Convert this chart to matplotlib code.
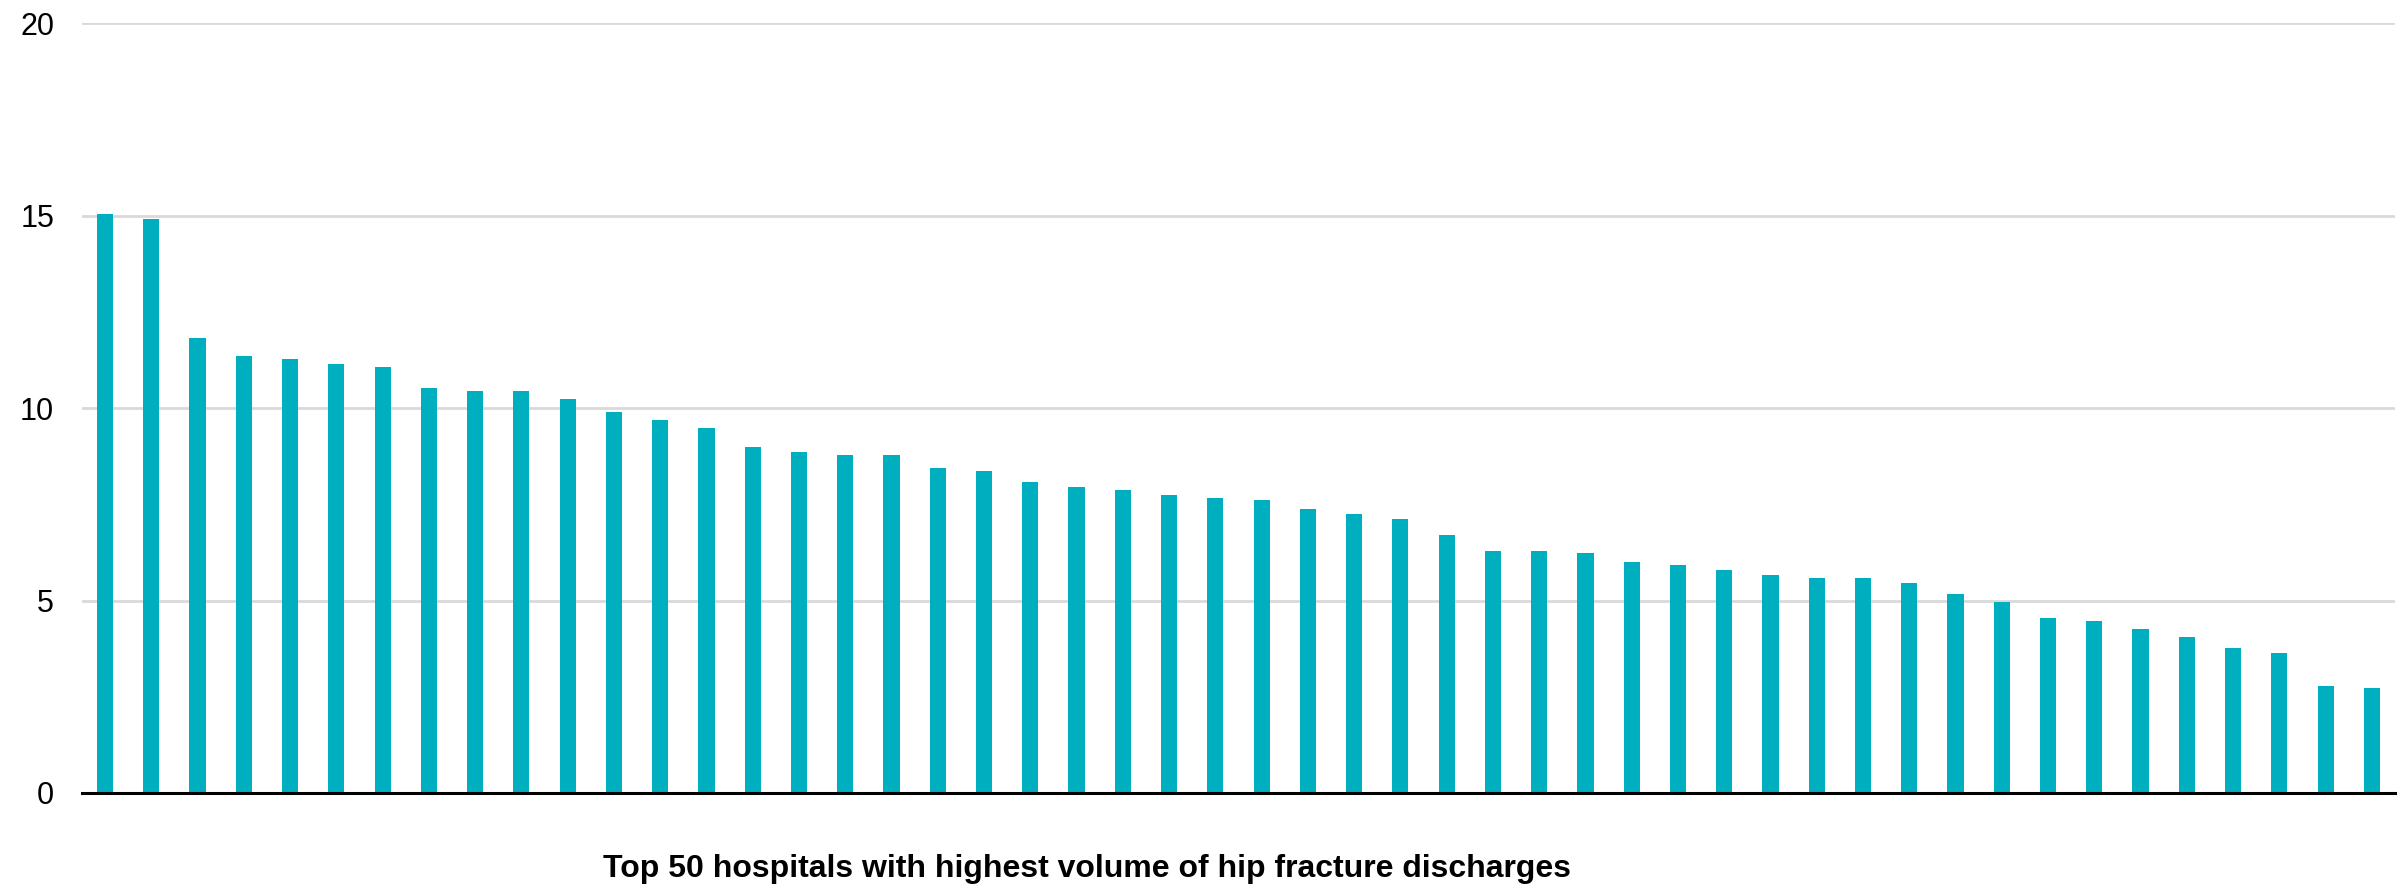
# Top 50 hospitals by hip fracture discharge volume - bar chart

import matplotlib.pyplot as plt
import numpy as np

plt.rcParams['font.family'] = ['Liberation Sans', 'DejaVu Sans']

hospital_rank = list(range(1, 51))
discharges = [
    15.03, 14.90, 11.83, 11.35, 11.28, 11.14, 11.07, 10.51, 10.44, 10.44,
    10.23, 9.89, 9.68, 9.47, 8.98, 8.85, 8.78, 8.78, 8.43, 8.36,
    8.09, 7.94, 7.87, 7.73, 7.66, 7.60, 7.39, 7.26, 7.11, 6.69,
    6.28, 6.28, 6.24, 6.00, 5.93, 5.79, 5.65, 5.58, 5.58, 5.45,
    5.17, 4.96, 4.54, 4.47, 4.26, 4.05, 3.77, 3.63, 2.79, 2.72,
]
y_ticks = [0, 5, 10, 15, 20]
title = 'Top 50 hospitals with highest volume of hip fracture discharges'

bar_color = '#00afbf'
grid_color = '#d9d9d9'

fig = plt.figure(figsize=(24.02, 8.88), dpi=100)
# axes from x=82 to x=2395 px, y from 793 to 23 px
ax = fig.add_axes([0.0341, 0.107, 0.963, 0.867])

x = np.arange(len(hospital_rank))
ax.bar(x, discharges, width=0.35, color=bar_color, zorder=3)

ax.set_xlim(-0.5, len(hospital_rank) - 0.5)
ax.set_ylim(0, 20)
ax.set_yticks(y_ticks)
ax.set_yticklabels([str(t) for t in y_ticks], fontsize=22)
ax.set_xticks([])
ax.tick_params(axis='y', length=0, pad=20)

ax.grid(axis='y', color=grid_color, linewidth=2, zorder=0)
for side in ['top', 'right', 'left']:
    ax.spines[side].set_visible(False)
ax.spines['bottom'].set_color('black')
ax.spines['bottom'].set_linewidth(2.2)
ax.spines['bottom'].set_zorder(4)

fig.text(0.4526, 0.012, title, ha='center', va='baseline',
         fontsize=23, fontweight='bold')

plt.savefig('out.png', dpi=100)
